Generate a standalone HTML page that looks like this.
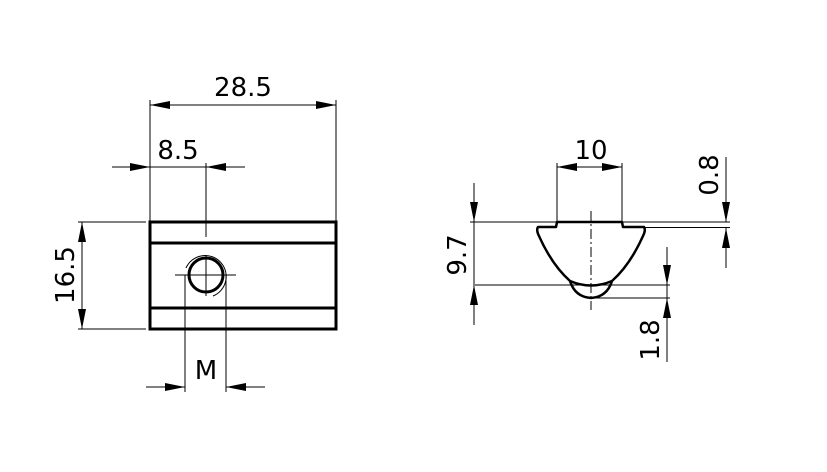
<!DOCTYPE html>
<html><head><style>body{margin:0;background:#fff}svg{display:block}text{font-family:"DejaVu Sans","Liberation Sans",sans-serif;font-size:26px;fill:#000}</style></head><body>
<svg width="827" height="472" viewBox="0 0 827 472" xmlns="http://www.w3.org/2000/svg">
<defs>
<marker id="a" viewBox="0 0 20 8" refX="20" refY="4" markerWidth="20" markerHeight="8" markerUnits="userSpaceOnUse" orient="auto-start-reverse"><path d="M0,0L20,4L0,8z" fill="#000"/></marker>
</defs>
<g stroke="#000" stroke-width="1" fill="none">
<line x1="150" y1="100" x2="150" y2="222"/><line x1="336" y1="100" x2="336" y2="222"/>
<line x1="150" y1="105" x2="336" y2="105" marker-start="url(#a)" marker-end="url(#a)"/>
<line x1="112" y1="167" x2="150" y2="167" marker-end="url(#a)"/>
<line x1="150" y1="167" x2="245" y2="167"/>
<line x1="245" y1="167" x2="206" y2="167" marker-end="url(#a)"/>
<line x1="206" y1="163" x2="206" y2="237"/>
<line x1="78" y1="222" x2="146" y2="222"/><line x1="78" y1="329" x2="146" y2="329"/>
<line x1="82" y1="222" x2="82" y2="329" marker-start="url(#a)" marker-end="url(#a)"/>
<line x1="185" y1="275" x2="185" y2="392"/><line x1="226" y1="275" x2="226" y2="392"/>
<line x1="146" y1="387" x2="185" y2="387" marker-end="url(#a)"/>
<line x1="265" y1="387" x2="226" y2="387" marker-end="url(#a)"/>
<line x1="175" y1="275" x2="236" y2="275"/><line x1="206" y1="255" x2="206" y2="296"/>
<path d="M186,268 A21,21 0 1 1 213,296"/>
<line x1="470" y1="222" x2="730" y2="222"/><line x1="645" y1="227.5" x2="730" y2="227.5"/>
<line x1="475" y1="285" x2="670" y2="285"/><line x1="591" y1="298" x2="670" y2="298"/>
<line x1="557" y1="163" x2="557" y2="222"/><line x1="622" y1="163" x2="622" y2="222"/>
<line x1="557" y1="167" x2="622" y2="167" marker-start="url(#a)" marker-end="url(#a)"/>
<line x1="474" y1="183" x2="474" y2="222" marker-end="url(#a)"/>
<line x1="474" y1="222" x2="474" y2="285"/>
<line x1="474" y1="325" x2="474" y2="285" marker-end="url(#a)"/>
<line x1="726" y1="157" x2="726" y2="222" marker-end="url(#a)"/>
<line x1="726" y1="268" x2="726" y2="228" marker-end="url(#a)"/>
<line x1="667" y1="247" x2="667" y2="285" marker-end="url(#a)"/>
<line x1="667" y1="285" x2="667" y2="298"/>
<line x1="667" y1="362" x2="667" y2="298" marker-end="url(#a)"/>
<line x1="591" y1="211" x2="591" y2="310" stroke-dasharray="10,3,2,3"/>
</g>
<g stroke="#000" stroke-width="3" fill="none">
<rect x="150" y="222" width="186" height="107"/>
<line x1="150" y1="243" x2="336" y2="243"/><line x1="150" y1="308" x2="336" y2="308"/>
<circle cx="206" cy="275" r="17"/>
<path d="M557,222 H622 L623,227 H644 Q646,230 643,236 Q630,265 612,281 Q591,290 570,281 Q552,265 539,236 Q536,230 538,227 H556 Z" stroke-width="2.5" stroke-linejoin="round"/>
<path d="M570,281 Q575,297 591,298 Q607,297 612,281" stroke-width="2.5"/>
</g>
<text x="243" y="96" text-anchor="middle">28.5</text>
<text x="178" y="159" text-anchor="middle">8.5</text>
<text x="206" y="379" text-anchor="middle">M</text>
<text transform="translate(74,275) rotate(-90)" text-anchor="middle">16.5</text>
<text x="591" y="159" text-anchor="middle">10</text>
<text transform="translate(466,255) rotate(-90)" text-anchor="middle">9.7</text>
<text transform="translate(718,175) rotate(-90)" text-anchor="middle">0.8</text>
<text transform="translate(659,340) rotate(-90)" text-anchor="middle">1.8</text>
</svg>
</body></html>
